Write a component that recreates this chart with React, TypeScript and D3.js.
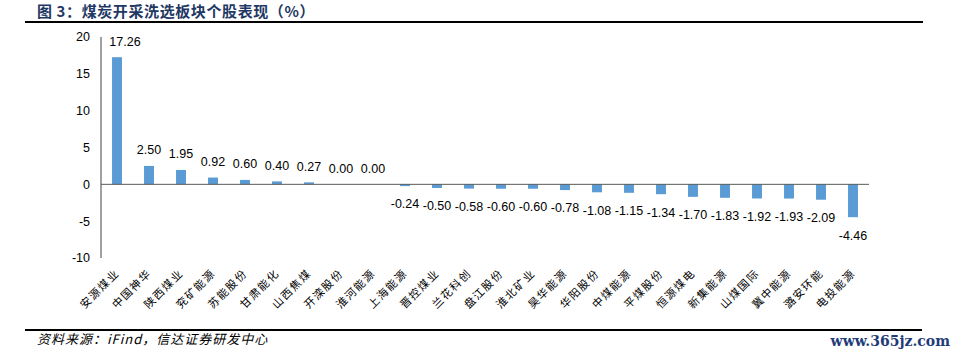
import React from 'react';
import * as d3 from 'd3';

const categories = ['安源煤业', '中国神华', '陕西煤业', '兖矿能源', '苏能股份', '甘肃能化', '山西焦煤', '开滦股份', '淮河能源', '上海能源', '晋控煤业', '兰花科创', '盘江股份', '淮北矿业', '昊华能源', '华阳股份', '中煤能源', '平煤股份', '恒源煤电', '新集能源', '山煤国际', '冀中能源', '潞安环能', '电投能源'];
const values = [17.26, 2.5, 1.95, 0.92, 0.6, 0.4, 0.27, 0.0, 0.0, -0.24, -0.5, -0.58, -0.6, -0.6, -0.78, -1.08, -1.15, -1.34, -1.7, -1.83, -1.92, -1.93, -2.09, -4.46];
const yTicks = [20, 15, 10, 5, 0, -5, -10];

const W = 953;
const H = 355;

export default function App() {
  const x = d3.scaleBand().domain(categories).range([101, 869]).paddingInner(0.69).paddingOuter(0.345);
  const y = d3.scaleLinear().domain([-10, 20]).range([258, 37]);
  const bw = x.bandwidth();

  return (
    <svg width={W} height={H} style={{ position: 'absolute', left: 0, top: 0, background: '#fff' }}>
      {/* title */}
      <text x={37} y={17} fontFamily="'Noto Sans CJK SC'" fontWeight="bold" fontSize={15} letterSpacing={0.6} fill="#1f3864">
        图 3：煤炭开采洗选板块个股表现（%）
      </text>
      <line x1={25} x2={923} y1={22} y2={22} stroke="#000" strokeWidth={2.2} />

      {/* y axis */}
      <line x1={101} x2={101} y1={37} y2={258} stroke="#404040" strokeWidth={1} />
      {yTicks.map(t => (
        <text key={t} x={90} y={y(t)} dy="0.35em" textAnchor="end" fontFamily="'Liberation Sans', Arial" fontSize={12.5} fill="#000">
          {t}
        </text>
      ))}

      {/* bars */}
      {values.map((v, i) => (
        <rect key={categories[i]} x={x(categories[i])} y={y(Math.max(0, v))} width={bw} height={Math.abs(y(v) - y(0))} fill="#5b9bd5" />
      ))}
      <line x1={101} x2={869} y1={y(0)} y2={y(0)} stroke="#595959" strokeWidth={1} />

      {/* value labels */}
      {values.map((v, i) => {
        const cx = (x(categories[i]) as number) + bw / 2;
        const ly = v >= 0 ? y(v) - 16 : y(v) + 18;
        return (
          <text key={'v' + i} x={i === 0 ? cx + 8 : cx} y={ly} dy="0.35em" textAnchor="middle" fontFamily="'Liberation Sans', Arial" fontSize={12.5} fill="#000">
            {v.toFixed(2)}
          </text>
        );
      })}

      {/* category labels */}
      {categories.map(c => {
        const cx = (x(c) as number) + bw / 2;
        return (
          <text key={c} transform={`translate(${cx + 3},${274}) rotate(-45)`} textAnchor="end" fontFamily="'Noto Sans CJK SC'" fontSize={11} letterSpacing={1.5} fill="#000">
            {c}
          </text>
        );
      })}

      {/* footer */}
      <line x1={25} x2={922} y1={330} y2={330} stroke="#000" strokeWidth={2.2} />
      <text x={37} y={344} fontFamily="'Noto Sans CJK SC'" fontStyle="italic" fontSize={13} letterSpacing={1} fill="#000">
        资料来源：iFind，信达证券研发中心
      </text>
      <text x={950} y={346} textAnchor="end" fontFamily="'DejaVu Serif'" fontWeight="bold" fontSize={14} fill="#1f3c78">
        www.365jz.com
      </text>
    </svg>
  );
}
